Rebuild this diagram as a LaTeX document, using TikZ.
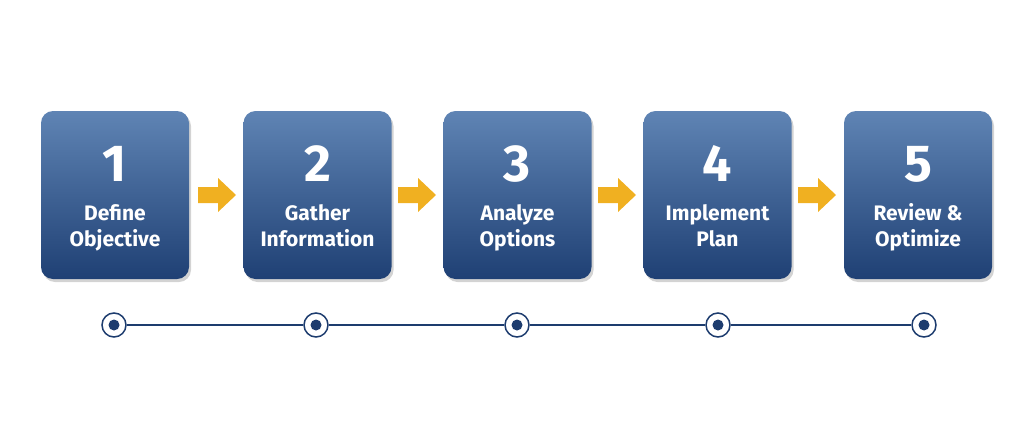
\documentclass[tikz,border=0pt]{standalone}
\usepackage{fontspec}
\setmainfont{Fira Sans}
\usetikzlibrary{shadows}
\definecolor{navy}{HTML}{1D3C6E}
\definecolor{btop}{HTML}{5F84B4}
\definecolor{bbot}{HTML}{1F4074}
\definecolor{gold}{HTML}{F0B021}
\tikzset{
 stepbox/.style={draw=none,rounded corners=12pt,minimum width=148pt,minimum height=168pt,top color=btop,bottom color=bbot,
   drop shadow={shadow xshift=2pt,shadow yshift=-3pt,opacity=.35,fill=gray},inner sep=0pt},
 num/.style={text=white,font=\bfseries\fontsize{52}{52}\selectfont,anchor=base,inner sep=0pt},
 lbl/.style={text=white,font=\bfseries\fontsize{21}{22}\selectfont,anchor=base,inner sep=0pt},
 ring/.style={circle,draw=navy,line width=1.5pt,fill=white,minimum size=24pt,inner sep=0pt},
 dot/.style={circle,fill=navy,minimum size=11pt,inner sep=0pt},
}
\begin{document}
\begin{tikzpicture}[x=1pt,y=-1pt]
\useasboundingbox (0,0) rectangle (1024,447);
\foreach \i/\cx/\ca/\cb in {1/115/Define/Objective,2/317.5/Gather/Information,3/517.5/Analyze/Options,4/717.5/Implement/Plan,5/918/Review \&/Optimize}{
  \node[stepbox] (b\i) at (\cx,195) {};
  \node[num] (n\i) at (\cx,181) {\i};
  \node[lbl] (la\i) at (\cx,220) {\ca};
  \node[lbl] (lb\i) at (\cx,246) {\cb};
}
\foreach \i/\ax in {1/217,2/417,3/617,4/817}{
  \coordinate (a\i) at (\ax,195);
  \fill[gold] ([xshift=-19pt,yshift=-8pt]a\i) -- ([xshift=1pt,yshift=-8pt]a\i) -- ([xshift=1pt,yshift=-17pt]a\i)
     -- ([xshift=19pt]a\i) -- ([xshift=1pt,yshift=17pt]a\i) -- ([xshift=1pt,yshift=8pt]a\i) -- ([xshift=-19pt,yshift=8pt]a\i) -- cycle;
}
\foreach \i/\cx in {1/114,2/316,3/517,4/718,5/924}{
  \node[ring] (r\i) at (\cx,325) {};
}
\draw[navy,line width=1.8pt] (r1)--(r2) (r2)--(r3) (r3)--(r4) (r4)--(r5);
\foreach \i in {1,...,5}{\node[dot] (d\i) at (r\i) {};}
\end{tikzpicture}
\end{document}
